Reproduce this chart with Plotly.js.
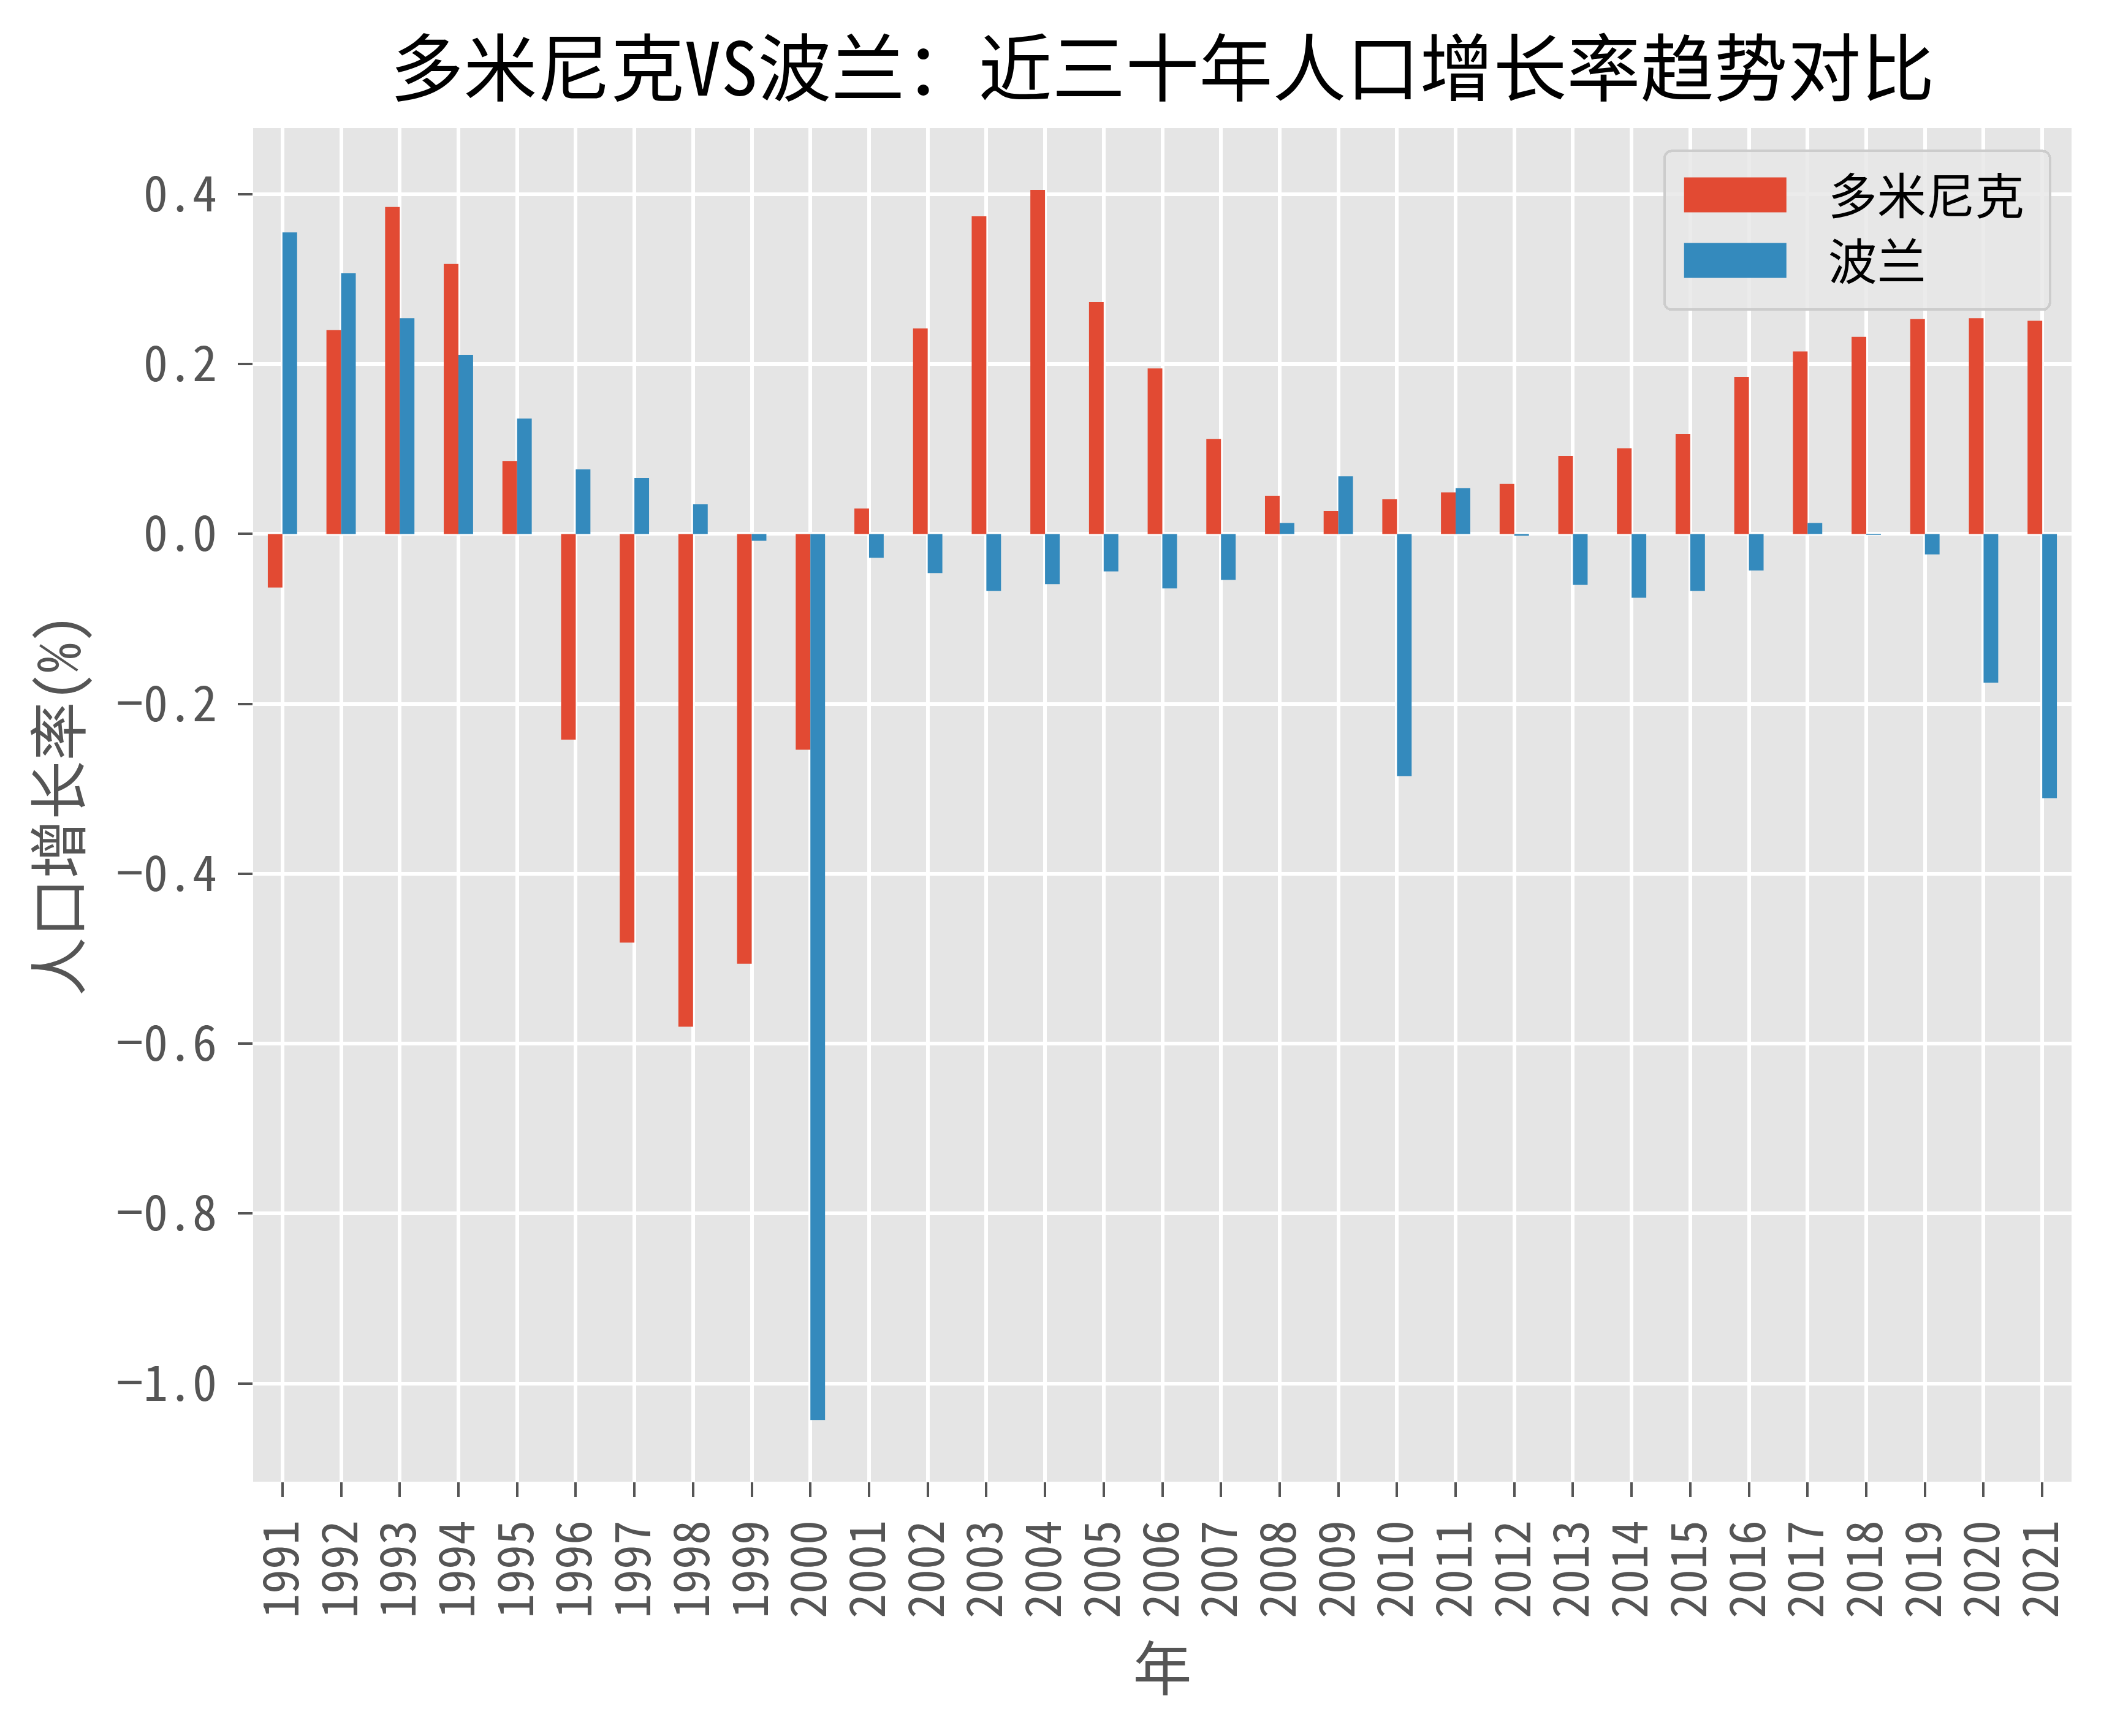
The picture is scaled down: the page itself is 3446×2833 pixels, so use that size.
<!DOCTYPE html>
<html>
<head>
<meta charset="utf-8">
<script src="https://cdn.plot.ly/plotly-3.0.1.min.js"></script>
<style>html,body{margin:0;padding:0;background:#fff;}#chart{width:3446px;height:2833px;}</style>
</head>
<body>
<div id="chart"></div>
<script>
const years = ["1991","1992","1993","1994","1995","1996","1997","1998","1999","2000","2001","2002","2003","2004","2005","2006","2007","2008","2009","2010","2011","2012","2013","2014","2015","2016","2017","2018","2019","2020","2021"];
const dominica = [-0.063, 0.240, 0.385, 0.318, 0.086, -0.242, -0.481, -0.580, -0.506, -0.254, 0.030, 0.242, 0.374, 0.405, 0.273, 0.195, 0.112, 0.045, 0.027, 0.041, 0.049, 0.059, 0.092, 0.101, 0.118, 0.185, 0.215, 0.232, 0.253, 0.254, 0.251];
const poland = [0.355, 0.307, 0.254, 0.211, 0.136, 0.076, 0.066, 0.035, -0.008, -1.043, -0.028, -0.046, -0.067, -0.059, -0.044, -0.064, -0.054, 0.013, 0.068, -0.285, 0.054, -0.002, -0.060, -0.075, -0.067, -0.043, 0.013, -0.001, -0.024, -0.175, -0.311];
const seriesNames = ["多米尼克", "波兰"];
const yTicks = [-1.0, -0.8, -0.6, -0.4, -0.2, 0.0, 0.2, 0.4];

const FONT = '"Noto Sans Mono CJK SC", "Noto Sans CJK SC", sans-serif';

const traces = [
  {type: 'bar', name: seriesNames[0], x: years, y: dominica, marker: {color: '#E24A33', line: {width: 0}}},
  {type: 'bar', name: seriesNames[1], x: years, y: poland, marker: {color: '#348ABD', line: {width: 0}}}
];

const layout = {
  width: 3446, height: 2833,
  paper_bgcolor: '#FFFFFF', plot_bgcolor: '#E5E5E5',
  margin: {l: 413, r: 66, t: 209, b: 415, pad: 0},
  font: {family: FONT, color: '#555555', size: 80},
  barmode: 'group', bargap: 0.5, bargroupgap: 0,
  title: {text: '多米尼克VS波兰：近三十年人口增长率趋势对比', font: {family: FONT, size: 120, color: '#000000'},
          x: 0.5, xref: 'paper', xanchor: 'center', y: 1 - 114/2833, yref: 'container', yanchor: 'middle'},
  xaxis: {
    type: 'category', range: [-0.5, 30.5], tickangle: -90,
    tickmode: 'array', tickvals: years, ticktext: years,
    showgrid: true, gridcolor: '#FFFFFF', gridwidth: 6,
    ticks: 'outside', ticklen: 24, tickwidth: 4, tickcolor: '#555555',
    ticklabelstandoff: 6,
    tickfont: {family: FONT, size: 80, color: '#555555'},
    showline: false, zeroline: false,
    title: {text: '年', font: {family: FONT, size: 96, color: '#555555'}, standoff: 50}
  },
  yaxis: {
    range: [-1.1157, 0.4779], tickvals: yTicks, tickformat: '.1f',
    showgrid: true, gridcolor: '#FFFFFF', gridwidth: 6,
    zeroline: false,
    ticks: 'outside', ticklen: 24, tickwidth: 4, tickcolor: '#555555',
    ticklabelstandoff: 18,
    tickfont: {family: FONT, size: 80, color: '#555555'},
    showline: false,
    title: {text: '人口增长率(%)', font: {family: FONT, size: 96, color: '#555555'}, standoff: 25}
  },
  showlegend: true,
  legend: {
    x: 0.977, y: 0.979, xanchor: 'right', yanchor: 'top',
    bgcolor: 'rgba(232,232,232,0.85)', bordercolor: '#CCCCCC', borderwidth: 4,
    font: {family: FONT, size: 80, color: '#000000'},
    itemwidth: 255, tracegroupgap: 0
  }
};

function fixLegend(){
  const gd = document.getElementById('chart');
  gd.querySelectorAll('.legend .traces').forEach(function(item){
    const p = item.querySelector('.legendpoints path');
    const t = item.querySelector('text.legendtext');
    if (!p || !t) return;
    const pr = p.getBoundingClientRect();
    const cy = (pr.top + pr.bottom) / 2;
    p.removeAttribute('transform');
    const tr = t.getBoundingClientRect();
    const m = p.parentNode.getScreenCTM();
    const x1s = tr.left - 68, x0s = x1s - 167;
    const y0s = cy - 28.5, y1s = cy + 28.5;
    const x0 = x0s - m.e, x1 = x1s - m.e, y0 = y0s - m.f, y1 = y1s - m.f;
    p.setAttribute('d', 'M' + x0 + ',' + y0 + 'H' + x1 + 'V' + y1 + 'H' + x0 + 'Z');
  });
  const bg = gd.querySelector('.legend rect.bg');
  if (bg) {
    const y = parseFloat(bg.getAttribute('y')) || 0;
    const h = parseFloat(bg.getAttribute('height')) || 0;
    const w = parseFloat(bg.getAttribute('width')) || 0;
    bg.setAttribute('y', y - 11);
    bg.setAttribute('height', h + 31);
    bg.setAttribute('width', w + 35);
    bg.setAttribute('rx', 12); bg.setAttribute('ry', 12);
  }
}

Plotly.newPlot('chart', traces, layout, {staticPlot: true}).then(fixLegend);
</script>
</body>
</html>
